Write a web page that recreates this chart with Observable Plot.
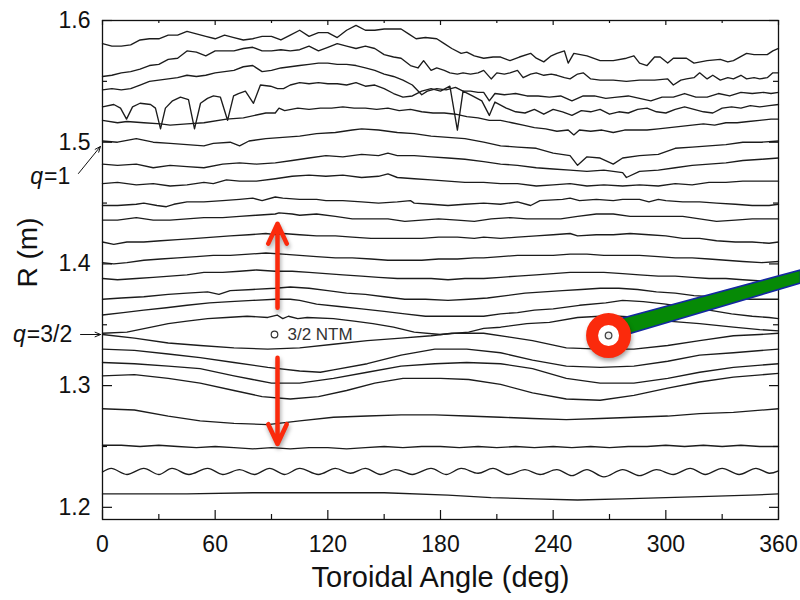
<!DOCTYPE html>
<html><head><meta charset="utf-8">
<script src="https://cdn.jsdelivr.net/npm/d3@7"></script>
<script src="https://cdn.jsdelivr.net/npm/@observablehq/plot@0.6"></script>
<style>
html,body{margin:0;padding:0;background:#fff;}
#chart{width:800px;height:600px;overflow:hidden;}
</style></head><body><div id="chart"></div>
<script>
// ---------- axis ticks ----------
const xTicks = [0, 60, 120, 180, 240, 300, 360];
const xTickLabels = ["0", "60", "120", "180", "240", "300", "360"];
const xMinorTicks = [30, 90, 150, 210, 270, 330];
const yTicks = [1.2, 1.3, 1.4, 1.5, 1.6];
const yTickLabels = ["1.2", "1.3", "1.4", "1.5", "1.6"];
const yMinorTicks = [1.25, 1.35, 1.45, 1.55];

// ---------- flux-surface traces: [toroidal angle (deg), R (m)] ----------
const line01 = [[0,1.581],[5,1.579],[10,1.579],[15,1.580],[20,1.584],[25,1.585],[30,1.585],[35,1.588],[40,1.588],[45,1.591],[50,1.589],[55,1.587],[60,1.585],[65,1.588],[70,1.586],[75,1.584],[80,1.585],[85,1.587],[90,1.587],[95,1.584],[100,1.588],[105,1.592],[110,1.587],[115,1.590],[120,1.590],[125,1.586],[130,1.592],[135,1.596],[140,1.592],[145,1.592],[150,1.593],[155,1.593],[159,1.593],[163,1.589],[167,1.585],[172,1.586],[178,1.585],[182,1.581],[186,1.577],[191,1.573],[194,1.574],[198,1.571],[203,1.569],[208,1.570],[212,1.570],[217,1.567],[222,1.570],[228,1.573],[231,1.569],[235,1.566],[239,1.571],[242,1.573],[246,1.575],[248,1.565],[251,1.573],[258,1.571],[265,1.567],[272,1.567],[279,1.569],[283,1.571],[286,1.565],[290,1.563],[294,1.570],[297,1.570],[301,1.565],[304,1.569],[311,1.569],[315,1.565],[322,1.567],[329,1.568],[333,1.566],[336,1.567],[343,1.573],[347,1.572],[354,1.572],[357,1.575],[360,1.577]];
const line02 = [[0,1.554],[5,1.555],[10,1.557],[15,1.558],[20,1.560],[25,1.563],[30,1.564],[35,1.568],[40,1.569],[45,1.575],[50,1.574],[55,1.571],[60,1.575],[65,1.575],[70,1.575],[75,1.577],[80,1.578],[85,1.575],[90,1.575],[95,1.576],[100,1.575],[105,1.576],[110,1.579],[115,1.575],[120,1.578],[125,1.581],[130,1.579],[135,1.577],[140,1.579],[145,1.577],[150,1.572],[155,1.570],[159,1.569],[164,1.563],[168,1.561],[171,1.567],[175,1.559],[178,1.561],[182,1.559],[185,1.557],[189,1.556],[192,1.557],[196,1.556],[200,1.557],[203,1.559],[207,1.552],[210,1.557],[214,1.556],[217,1.557],[221,1.559],[224,1.553],[228,1.556],[231,1.557],[235,1.555],[239,1.556],[242,1.555],[246,1.553],[249,1.552],[253,1.556],[256,1.557],[260,1.552],[265,1.551],[272,1.551],[279,1.550],[286,1.551],[294,1.551],[301,1.552],[304,1.547],[308,1.551],[311,1.552],[315,1.553],[318,1.557],[322,1.552],[325,1.555],[329,1.551],[333,1.553],[336,1.552],[340,1.555],[343,1.552],[347,1.553],[350,1.552],[354,1.553],[357,1.557],[360,1.557]];
const line03 = [[0,1.543],[5,1.544],[10,1.543],[15,1.544],[20,1.547],[25,1.550],[30,1.551],[35,1.552],[40,1.553],[45,1.555],[50,1.554],[55,1.555],[60,1.557],[65,1.558],[70,1.559],[75,1.562],[80,1.563],[85,1.558],[90,1.559],[95,1.561],[100,1.562],[105,1.563],[110,1.564],[115,1.565],[120,1.565],[125,1.564],[130,1.564],[135,1.563],[140,1.561],[145,1.559],[150,1.556],[155,1.554],[160,1.551],[165,1.547],[170,1.539],[173,1.542],[178,1.544],[183,1.543],[188,1.545],[192,1.542],[196,1.542],[200,1.541],[203,1.541],[206,1.534],[209,1.540],[214,1.539],[220,1.540],[226,1.538],[232,1.538],[238,1.537],[244,1.538],[250,1.534],[256,1.538],[262,1.538],[268,1.536],[274,1.537],[280,1.538],[286,1.536],[292,1.534],[298,1.537],[304,1.537],[310,1.540],[316,1.537],[322,1.537],[328,1.540],[334,1.538],[340,1.541],[346,1.540],[352,1.541],[356,1.540],[360,1.541]];
const line04 = [[0,1.529],[6,1.531],[9.6,1.528],[12.8,1.519],[16,1.529],[20,1.532],[25.6,1.531],[28.2,1.528],[30.9,1.511],[33.5,1.528],[37.3,1.534],[41.5,1.537],[45.8,1.535],[49,1.511],[52.2,1.532],[55.9,1.536],[59.1,1.538],[62.8,1.537],[66.6,1.518],[69.8,1.538],[72.4,1.540],[76.1,1.542],[80.4,1.532],[84.1,1.547],[89.5,1.546],[93.2,1.544],[96.4,1.544],[100,1.547],[105,1.549],[110,1.548],[115,1.549],[120,1.548],[125,1.548],[130,1.547],[135,1.549],[140,1.546],[145,1.547],[150,1.544],[155,1.540],[160,1.537],[165,1.538],[170,1.542],[175,1.544],[180,1.542],[185,1.546],[189,1.510],[192,1.542],[197,1.538],[202,1.534],[206,1.522],[209,1.533],[215,1.528],[220,1.525],[225,1.524],[230,1.527],[235,1.523],[240,1.527],[245,1.525],[250,1.522],[255,1.526],[260,1.525],[265,1.527],[270,1.523],[275,1.525],[280,1.524],[285,1.527],[290,1.528],[295,1.525],[300,1.524],[305,1.527],[310,1.529],[315,1.527],[320,1.525],[325,1.524],[330,1.528],[335,1.529],[340,1.528],[345,1.530],[350,1.529],[355,1.530],[360,1.531]];
const line05 = [[0,1.518],[8,1.516],[13,1.517],[22,1.516],[31,1.515],[36,1.514],[45,1.515],[54,1.516],[66,1.519],[75,1.520],[87,1.524],[92,1.524],[94,1.528],[97,1.526],[104,1.528],[110,1.527],[116,1.528],[122,1.528],[128,1.529],[134,1.528],[140,1.528],[146,1.527],[152,1.528],[158,1.526],[164,1.527],[170,1.525],[176,1.524],[182,1.524],[188,1.523],[194,1.521],[200,1.520],[206,1.518],[212,1.518],[218,1.516],[224,1.514],[230,1.512],[236,1.511],[242,1.509],[248,1.510],[251,1.506],[254,1.510],[260,1.509],[266,1.510],[272,1.508],[278,1.510],[284,1.510],[290,1.510],[296,1.511],[302,1.512],[308,1.513],[314,1.514],[320,1.515],[326,1.514],[332,1.516],[338,1.516],[344,1.517],[350,1.518],[356,1.519],[360,1.519]];
const line06 = [[0,1.501],[8,1.500],[18,1.503],[27,1.500],[36,1.499],[45,1.498],[54,1.497],[59,1.499],[68,1.500],[73,1.497],[78,1.501],[87,1.503],[96,1.504],[105,1.505],[114,1.507],[124,1.508],[133,1.510],[138,1.511],[147,1.510],[157,1.508],[166,1.507],[175,1.505],[184,1.504],[193,1.503],[203,1.500],[212,1.497],[221,1.496],[231,1.495],[240,1.491],[249,1.489],[253,1.481],[258,1.488],[265,1.487],[272,1.482],[277,1.487],[286,1.489],[296,1.490],[305,1.495],[314,1.496],[323,1.497],[332,1.498],[341,1.500],[351,1.500],[360,1.501]];
const line07 = [[0,1.482],[8,1.481],[18,1.482],[27,1.479],[36,1.481],[45,1.480],[54,1.479],[64,1.482],[73,1.483],[82,1.482],[92,1.483],[101,1.485],[110,1.487],[119,1.489],[128,1.488],[138,1.490],[147,1.489],[152,1.491],[157,1.489],[166,1.489],[175,1.488],[184,1.487],[193,1.486],[203,1.484],[212,1.482],[221,1.481],[231,1.479],[240,1.478],[249,1.477],[258,1.476],[267,1.477],[277,1.475],[279,1.471],[286,1.476],[296,1.477],[305,1.479],[314,1.481],[323,1.482],[332,1.483],[341,1.485],[351,1.486],[360,1.487]];
const line08 = [[0,1.466],[8,1.467],[18,1.465],[27,1.466],[36,1.464],[45,1.465],[54,1.467],[59,1.466],[66,1.469],[73,1.468],[82,1.468],[92,1.470],[101,1.472],[110,1.473],[119,1.472],[128,1.473],[138,1.471],[147,1.472],[152,1.474],[157,1.471],[166,1.470],[175,1.469],[184,1.468],[193,1.467],[203,1.467],[212,1.466],[221,1.466],[231,1.464],[240,1.465],[249,1.466],[258,1.464],[267,1.465],[277,1.464],[286,1.465],[296,1.464],[305,1.466],[314,1.465],[323,1.467],[332,1.467],[341,1.468],[351,1.468],[360,1.468]];
const line09 = [[0,1.448],[8,1.448],[18,1.449],[22,1.450],[29,1.448],[34,1.447],[38,1.449],[45,1.451],[54,1.451],[64,1.452],[73,1.453],[80,1.454],[85,1.452],[92,1.455],[96,1.454],[105,1.453],[114,1.453],[119,1.452],[128,1.452],[138,1.451],[147,1.450],[157,1.451],[164,1.452],[166,1.450],[175,1.449],[184,1.448],[193,1.449],[203,1.450],[212,1.449],[221,1.451],[228,1.448],[233,1.452],[245,1.453],[249,1.454],[254,1.452],[263,1.453],[272,1.452],[277,1.453],[286,1.453],[291,1.451],[296,1.453],[300,1.452],[309,1.451],[318,1.451],[327,1.450],[337,1.449],[346,1.448],[355,1.448],[360,1.449]];
const line10 = [[0,1.436],[8,1.436],[18,1.438],[27,1.436],[36,1.436],[45,1.437],[54,1.438],[64,1.438],[73,1.439],[82,1.440],[92,1.441],[94,1.442],[101,1.441],[105,1.440],[114,1.441],[124,1.439],[133,1.437],[143,1.437],[152,1.437],[161,1.435],[170,1.436],[179,1.437],[189,1.436],[198,1.435],[207,1.437],[217,1.438],[226,1.437],[235,1.437],[244,1.437],[253,1.439],[263,1.441],[272,1.441],[281,1.439],[291,1.439],[300,1.439],[309,1.439],[318,1.437],[327,1.435],[337,1.436],[346,1.437],[355,1.437],[360,1.437]];
const line11 = [[0,1.418],[6,1.416],[13,1.418],[22,1.418],[31,1.419],[40,1.420],[50,1.421],[59,1.422],[68,1.423],[78,1.424],[87,1.425],[92,1.424],[96,1.425],[105,1.424],[114,1.423],[124,1.423],[133,1.422],[143,1.421],[152,1.421],[161,1.421],[170,1.421],[179,1.422],[189,1.422],[198,1.421],[203,1.422],[212,1.421],[221,1.422],[231,1.423],[240,1.424],[249,1.425],[253,1.423],[263,1.424],[272,1.424],[281,1.425],[291,1.424],[300,1.423],[309,1.421],[318,1.421],[327,1.419],[337,1.418],[346,1.418],[355,1.417],[360,1.418]];
const line12 = [[0,1.401],[6,1.400],[13,1.401],[22,1.403],[31,1.404],[40,1.405],[50,1.406],[59,1.407],[68,1.407],[78,1.408],[87,1.409],[96,1.408],[105,1.407],[114,1.406],[124,1.405],[133,1.405],[143,1.404],[152,1.403],[161,1.403],[170,1.403],[179,1.404],[189,1.404],[198,1.405],[203,1.405],[212,1.406],[221,1.407],[226,1.407],[231,1.407],[240,1.407],[249,1.408],[258,1.408],[267,1.407],[277,1.407],[286,1.407],[296,1.406],[305,1.405],[314,1.405],[323,1.404],[332,1.403],[341,1.402],[351,1.401],[360,1.402]];
const line13 = [[0,1.388],[8,1.387],[18,1.388],[27,1.389],[36,1.390],[45,1.391],[54,1.393],[64,1.393],[73,1.394],[82,1.395],[92,1.394],[101,1.394],[110,1.393],[119,1.392],[128,1.391],[138,1.390],[147,1.389],[157,1.388],[166,1.388],[175,1.388],[184,1.387],[193,1.388],[203,1.388],[212,1.389],[221,1.390],[231,1.391],[240,1.392],[249,1.393],[258,1.393],[267,1.393],[277,1.392],[286,1.391],[296,1.390],[305,1.390],[314,1.389],[323,1.388],[332,1.388],[341,1.387],[351,1.386],[360,1.386]];
const line14 = [[0,1.371],[10,1.372],[22,1.373],[35,1.375],[45,1.376],[56,1.377],[62,1.375],[68,1.378],[80,1.379],[92,1.380],[100,1.381],[110,1.380],[120,1.378],[130,1.376],[140,1.375],[150,1.373],[161,1.371],[172,1.371],[184,1.370],[195,1.371],[205,1.372],[215,1.374],[225,1.376],[235,1.377],[245,1.378],[255,1.379],[265,1.380],[275,1.380],[285,1.379],[295,1.377],[305,1.376],[315,1.374],[325,1.373],[335,1.372],[345,1.371],[355,1.371],[360,1.371]];
const line15 = [[0,1.358],[11,1.360],[22,1.362],[34,1.364],[45,1.366],[57,1.368],[68,1.369],[80,1.370],[92,1.371],[100,1.371],[105,1.370],[114,1.367],[126,1.365],[138,1.363],[150,1.361],[161,1.359],[172,1.357],[184,1.357],[194,1.357],[203,1.357],[212,1.359],[221,1.360],[230,1.362],[240,1.363],[254,1.366],[268,1.368],[277,1.370],[288,1.369],[300,1.367],[312,1.364],[323,1.362],[335,1.359],[346,1.357],[355,1.356],[360,1.355]];
const line16 = [[0,1.343],[13,1.344],[26,1.348],[35,1.351],[45,1.353],[56,1.355],[66,1.356],[77,1.357],[88,1.356],[93,1.358],[96,1.355],[99,1.357],[104,1.355],[109,1.356],[123,1.355],[134,1.353],[144,1.351],[155,1.348],[166,1.344],[180,1.342],[195,1.344],[203,1.347],[212,1.348],[226,1.351],[238,1.352],[253,1.356],[265,1.357],[275,1.357],[286,1.356],[301,1.353],[318,1.351],[336,1.348],[350,1.346],[360,1.345]];
const line17 = [[0,1.342],[17,1.339],[35,1.335],[52,1.333],[70,1.331],[88,1.330],[105,1.331],[123,1.334],[141,1.337],[159,1.339],[175,1.341],[186,1.343],[203,1.343],[216,1.340],[229,1.337],[247,1.331],[265,1.330],[283,1.330],[301,1.333],[318,1.337],[336,1.341],[350,1.342],[360,1.343]];
const line18 = [[0,1.330],[17,1.329],[35,1.326],[52,1.323],[70,1.319],[88,1.315],[105,1.312],[116,1.311],[123,1.313],[141,1.318],[159,1.325],[177,1.330],[194,1.330],[212,1.327],[229,1.321],[247,1.316],[265,1.315],[283,1.316],[301,1.320],[318,1.325],[336,1.327],[360,1.330]];
const line19 = [[0,1.319],[17,1.318],[35,1.316],[52,1.314],[70,1.308],[80,1.305],[90,1.302],[105,1.302],[123,1.306],[141,1.311],[159,1.316],[177,1.318],[194,1.319],[212,1.318],[229,1.314],[247,1.306],[265,1.302],[283,1.302],[301,1.306],[318,1.311],[336,1.315],[360,1.318]];
const line20 = [[0,1.308],[17,1.309],[35,1.306],[52,1.302],[70,1.296],[85,1.291],[100,1.289],[115,1.291],[130,1.296],[145,1.302],[160,1.306],[180,1.306],[195,1.305],[212,1.301],[229,1.294],[247,1.289],[265,1.288],[283,1.292],[301,1.298],[318,1.303],[336,1.307],[360,1.310]];
const line21 = [[0,1.281],[17,1.280],[35,1.275],[52,1.271],[70,1.269],[88,1.268],[105,1.271],[123,1.274],[141,1.275],[159,1.276],[177,1.276],[194,1.275],[212,1.274],[229,1.273],[247,1.272],[265,1.273],[283,1.274],[301,1.275],[318,1.277],[336,1.278],[360,1.281]];
const line22 = [[0,1.251],[10,1.251],[20,1.250],[30,1.251],[40,1.250],[50,1.249],[60,1.250],[70,1.249],[80,1.248],[90,1.249],[100,1.248],[110,1.249],[120,1.249],[130,1.248],[140,1.249],[150,1.250],[160,1.249],[170,1.250],[180,1.250],[190,1.249],[200,1.250],[210,1.249],[220,1.250],[230,1.249],[240,1.250],[250,1.249],[260,1.250],[270,1.249],[280,1.250],[290,1.250],[300,1.251],[310,1.250],[320,1.251],[330,1.250],[340,1.251],[350,1.250],[360,1.250]];
const line23 = [[0,1.229],[4.7,1.232],[13,1.227],[22,1.232],[30,1.227],[37,1.232],[46,1.227],[56,1.232],[64,1.227],[73,1.231],[81,1.227],[89,1.232],[97,1.227],[105,1.232],[115,1.227],[124,1.232],[132,1.228],[140,1.232],[148,1.227],[156,1.231],[165,1.227],[175,1.232],[183,1.227],[191,1.232],[200,1.228],[208,1.232],[216,1.227],[225,1.231],[233,1.227],[242,1.231],[250,1.226],[258,1.231],[267,1.225],[277,1.231],[286,1.226],[295,1.231],[304,1.227],[313,1.232],[321,1.227],[330,1.232],[339,1.227],[348,1.232],[355,1.228],[360,1.230]];
const line24 = [[0,1.211],[45,1.211],[80,1.212],[110,1.212],[150,1.212],[184,1.210],[207,1.208],[230,1.207],[253,1.206],[277,1.207],[300,1.208],[323,1.209],[345,1.210],[360,1.211]];

const surfaces = [line01,line02,line03,line04,line05,line06,line07,line08,line09,line10,line11,line12,
  line13,line14,line15,line16,line17,line18,line19,line20,line21,line22,line24];

// ---------- annotations (data coordinates) ----------
const ntmLabel = {angle: 91.6, R: 1.342, text: "3/2 NTM", textAngle: 98.5};
const ntmSpot = {angle: 269.5, R: 1.3412};
const upArrow = {angle: 93.2, from: 1.364, to: 1.433};
const downArrow = {angle: 93.2, from: 1.323, to: 1.252};
const qLabels = [
  {q: "q", rest: "=1", angle: -31.6, R: 1.4718, a1: -12.8, r1: 1.4743, a2: -1.1, r2: 1.4965},
  {q: "q", rest: "=3/2", angle: -40.8, R: 1.342, a1: -11.7, r1: 1.342, a2: -1.0, r2: 1.342}
];
const pointer = [{angle: 269.5, lo: 1.3371, hi: 1.3518}, {angle: 372, lo: 1.3839, hi: 1.3946}];
const xTitle = {text: "Toroidal Angle (deg)"};
const yTitle = {text: "R (m)", angle: -39.4, R: 1.4094};

// ---------- layout ----------
const W = 800, H = 600, mL = 102, mR = 22, mT = 20, mB = 81;
const xDom = [0, 360], yDom = [1.19, 1.6];
const pxPerX = (W - mL - mR) / (xDom[1] - xDom[0]);
const pxPerY = (H - mT - mB) / (yDom[1] - yDom[0]);
const RED = "#fb2a0c";
const INK = "#1c1c1c";

const table = surfaces.flatMap((pts, i) => pts.map(([a, r]) => ({id: i, a, r})));
const wavy = line23.map(([a, r]) => ({a, r}));

const tickLenX = (px) => px / pxPerX;
const tickLenY = (px) => px / pxPerY;

const chart = Plot.plot({
  width: W, height: H,
  marginLeft: mL, marginRight: mR, marginTop: mT, marginBottom: mB,
  x: {domain: xDom, axis: null},
  y: {domain: yDom, axis: null},
  style: {fontFamily: "'Liberation Sans', Arial, Helvetica, sans-serif", background: "#fff", color: "#111"},
  marks: [
    Plot.line(table, {x: "a", y: "r", z: "id", stroke: INK, strokeWidth: 1.35, strokeLinejoin: "round"}),
    Plot.line(wavy, {x: "a", y: "r", stroke: INK, strokeWidth: 1.35, curve: "catmull-rom"}),
    Plot.frame({stroke: "#111", strokeWidth: 1.3}),
    Plot.ruleX(xTicks, {x: d => d, y1: () => yDom[0], y2: () => yDom[0] + tickLenY(9), stroke: "#111", strokeWidth: 1.2}),
    Plot.ruleX(xMinorTicks, {x: d => d, y1: () => yDom[0], y2: () => yDom[0] + tickLenY(5), stroke: "#111", strokeWidth: 1.2}),
    Plot.ruleX(xTicks, {x: d => d, y1: () => yDom[1], y2: () => yDom[1] - tickLenY(5), stroke: "#111", strokeWidth: 1.2}),
    Plot.ruleX(xMinorTicks, {x: d => d, y1: () => yDom[1], y2: () => yDom[1] - tickLenY(3), stroke: "#111", strokeWidth: 1.2}),
    Plot.ruleY(yTicks, {y: d => d, x1: () => xDom[0], x2: () => xDom[0] + tickLenX(10), stroke: "#111", strokeWidth: 1.2}),
    Plot.ruleY(yMinorTicks, {y: d => d, x1: () => xDom[0], x2: () => xDom[0] + tickLenX(5), stroke: "#111", strokeWidth: 1.2}),
    Plot.ruleY(yTicks, {y: d => d, x1: () => xDom[1], x2: () => xDom[1] - tickLenX(9), stroke: "#111", strokeWidth: 1.2}),
    Plot.ruleY(yMinorTicks, {y: d => d, x1: () => xDom[1], x2: () => xDom[1] - tickLenX(5), stroke: "#111", strokeWidth: 1.2}),
    Plot.text(xTicks, {x: d => d, text: (d, i) => xTickLabels[i], frameAnchor: "bottom", dy: 32, fontSize: 23, fill: "#111"}),
    Plot.text(yTicks, {y: d => d, text: (d, i) => yTickLabels[i], frameAnchor: "left", dx: -12, textAnchor: "end", fontSize: 23, fill: "#111"}),
    Plot.text([xTitle], {text: "text", frameAnchor: "bottom", dy: 67, fontSize: 29, fill: "#111"}),
    Plot.text([yTitle], {x: "angle", y: "R", text: "text", rotate: -90, fontSize: 28, fill: "#111"}),
    Plot.text(qLabels, {x: "angle", y: "R", text: "q", textAnchor: "end", fontSize: 23, fontStyle: "italic", fill: "#111"}),
    Plot.text(qLabels, {x: d => d.angle + 0.5, y: "R", text: "rest", textAnchor: "start", fontSize: 23, fill: "#111"}),
    Plot.arrow(qLabels, {x1: "a1", y1: "r1", x2: "a2", y2: "r2", stroke: "#111", strokeWidth: 1, headLength: 9, headAngle: 45}),
    Plot.dot([ntmLabel], {x: "angle", y: "R", r: 3.3, stroke: "#333", strokeWidth: 1.2, fill: "#fff"}),
    Plot.text([ntmLabel], {x: "textAngle", y: "R", text: "text", textAnchor: "start", fontSize: 17, fill: "#333"}),
    Plot.arrow([upArrow, downArrow], {x1: "angle", y1: "from", x2: "angle", y2: "to", stroke: RED, strokeWidth: 4.5, headLength: 7.3, headAngle: 50}),
    Plot.areaY(pointer, {x: "angle", y1: "lo", y2: "hi", fill: "#068a06", stroke: "#1428a0", strokeWidth: 1.6}),
    Plot.dot([ntmSpot], {x: "angle", y: "R", r: 16.5, stroke: RED, strokeWidth: 12, fill: "#fff"}),
    Plot.dot([ntmSpot], {x: "angle", y: "R", r: 3.3, stroke: "#444", strokeWidth: 1.3, fill: "#eee"})
  ]
});

document.getElementById("chart").appendChild(chart);
d3.select(chart).selectAll("g").filter(function () { return this.getAttribute("stroke") === RED; })
  .style("filter", "drop-shadow(1px 3px 2px rgba(0,0,0,0.35))");
</script>
</body></html>
